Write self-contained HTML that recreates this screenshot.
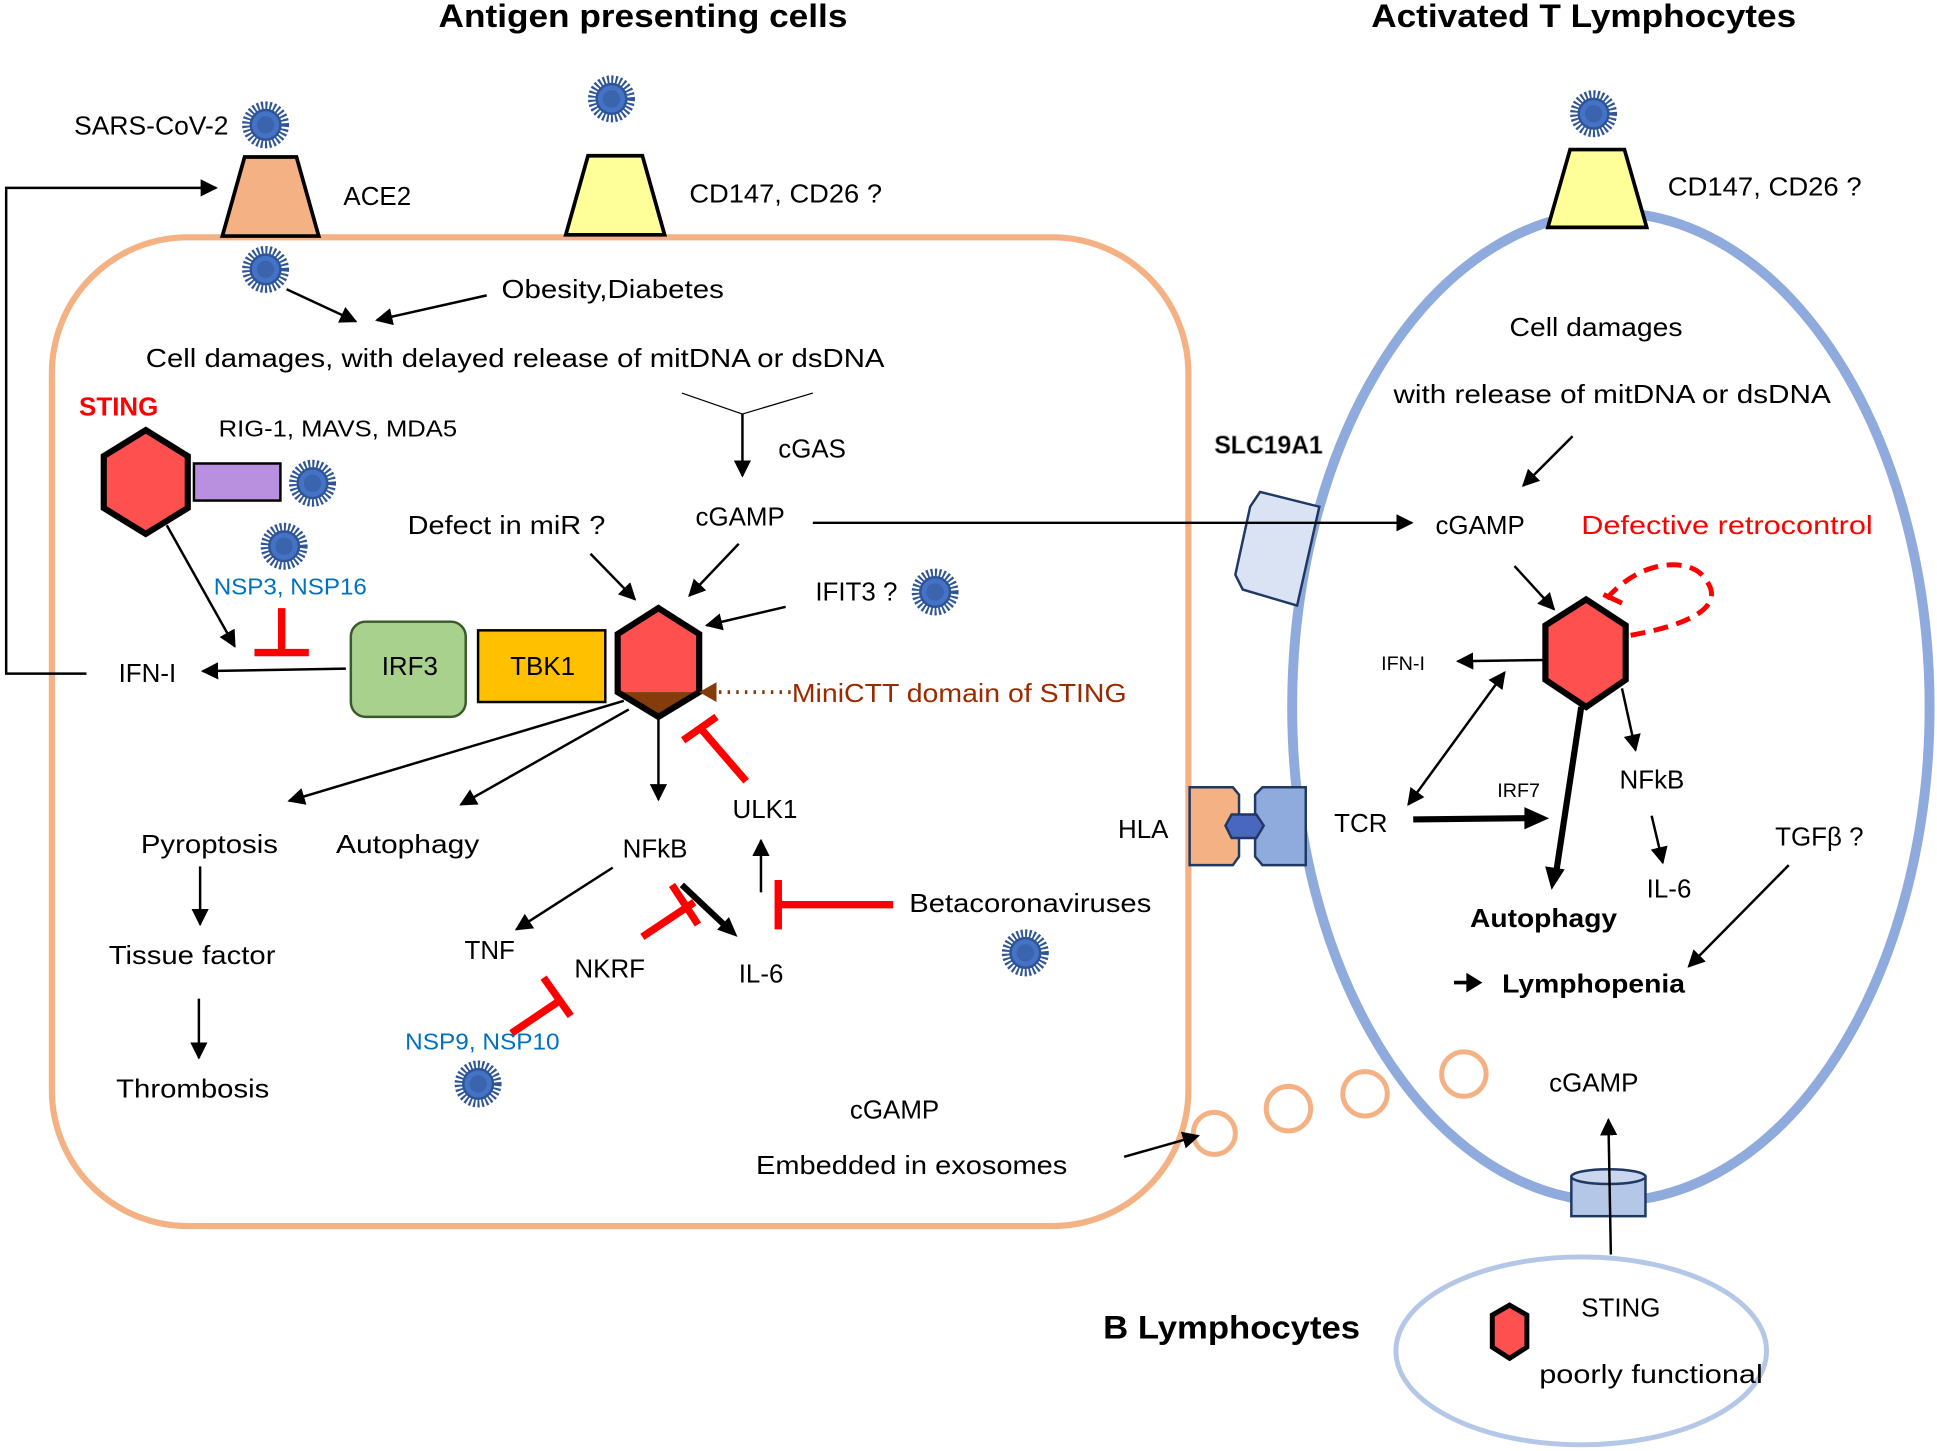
<!DOCTYPE html>
<html><head><meta charset="utf-8"><style>html,body{margin:0;padding:0;background:#fff}svg{display:block}text{font-family:"Liberation Sans",sans-serif}</style></head>
<body>
<svg width="1937" height="1451" viewBox="0 0 1568 1174" preserveAspectRatio="none" xmlns="http://www.w3.org/2000/svg">
<defs>
<marker id="am" viewBox="0 0 10 10" refX="9" refY="5" markerWidth="14" markerHeight="14" orient="auto-start-reverse" markerUnits="userSpaceOnUse"><path d="M0,0L10,5L0,10z" fill="#000"/></marker>
<g id="v"><circle r="15" fill="none" stroke="#2f5597" stroke-width="8" stroke-dasharray="1.6 1.6"/><circle r="12" fill="#4472c4" stroke="#2f5597" stroke-width="2"/><circle r="7" fill="#2f5597" opacity="0.5"/></g>
</defs>
<g font-size="21" fill="#000">
<text x="355" y="22" font-weight="bold" font-size="26" textLength="331" lengthAdjust="spacingAndGlyphs">Antigen presenting cells</text>
<text x="1110" y="22" font-weight="bold" font-size="26" textLength="344" lengthAdjust="spacingAndGlyphs">Activated T Lymphocytes</text>
</g>
<rect x="42" y="192" width="920" height="800" rx="110" fill="#fff" stroke="#f4b183" stroke-width="5"/>
<ellipse cx="1304" cy="572" rx="258" ry="400" fill="none" stroke="#8faadc" stroke-width="8"/>
<ellipse cx="1280" cy="1093" rx="150" ry="76" fill="#fff" stroke="#b4c7e7" stroke-width="4"/>
<polygon points="180,191 258,191 240,127 198,127" fill="#f4b183" stroke="#000" stroke-width="3"/>
<polygon points="458,190 538,190 520,126 476,126" fill="#ffff99" stroke="#000" stroke-width="3"/>
<polygon points="1253,184 1333,184 1315,121 1271,121" fill="#ffff99" stroke="#000" stroke-width="3"/>
<use href="#v" x="215" y="101"/><use href="#v" x="495" y="80"/><use href="#v" x="1290" y="92"/>
<use href="#v" x="215" y="218"/><use href="#v" x="253" y="391"/><use href="#v" x="230" y="442"/>
<use href="#v" x="757" y="479"/><use href="#v" x="830" y="771"/><use href="#v" x="387" y="877"/>
<polygon points="1012,410 1020,398 1068,410 1050,490 1006,477 1000,465" fill="#dae3f3" stroke="#1f3864" stroke-width="2"/>
<polygon points="963,637 998,637 1003,643 1003,693 998,700 963,700" fill="#f4b183" stroke="#1f3864" stroke-width="2"/>
<polygon points="1022,637 1057,637 1057,700 1022,700 1016,693 1016,643" fill="#8faadc" stroke="#1f3864" stroke-width="2"/>
<polygon points="997,659 1017,659 1023,668 1017,678 997,678 992,668" fill="#4a67c0" stroke="#1f3864" stroke-width="2"/>
<rect x="1272" y="952" width="60" height="32" fill="#b4c7e7" stroke="#1f3864" stroke-width="2"/>
<ellipse cx="1302" cy="952" rx="30" ry="6" fill="#c9d6ee" stroke="#1f3864" stroke-width="2"/>
<g fill="none" stroke="#f4b183" stroke-width="4"><circle cx="983" cy="917" r="17"/><circle cx="1043" cy="897" r="18"/><circle cx="1105" cy="885" r="18"/><circle cx="1185" cy="869" r="18"/></g>
<polygon points="118,348 152,369 152,411 118,432 84,411 84,369" fill="#ff5050" stroke="#000" stroke-width="5"/>
<rect x="157" y="375" width="70" height="30" fill="#b98fe0" stroke="#000" stroke-width="2"/>
<polygon points="533,492 566,513 566,560 533,580 500,560 500,513" fill="#ff5050"/>
<polygon points="500,560 566,560 533,580" fill="#843c0c"/>
<polygon points="533,492 566,513 566,560 533,580 500,560 500,513" fill="none" stroke="#000" stroke-width="5"/>
<polygon points="1284,485 1316,506 1316,550 1284,572 1251,550 1251,506" fill="#ff5050" stroke="#000" stroke-width="5"/>
<polygon points="1222,1056 1236,1064 1236,1090 1222,1099 1208,1090 1208,1064" fill="#ff5050" stroke="#000" stroke-width="4"/>
<rect x="284" y="503" width="93" height="77" rx="12" fill="#a9d18e" stroke="#3a5a2a" stroke-width="2"/>
<rect x="387" y="510" width="103" height="58" fill="#ffc000" stroke="#000" stroke-width="2"/>
<g stroke="#000" stroke-width="2" fill="none" marker-end="url(#am)">
<polyline points="70,545 5,545 5,152 175,152"/>
<line x1="232" y1="234" x2="288" y2="260"/>
<line x1="394" y1="239" x2="305" y2="259"/>
<line x1="601" y1="335" x2="601" y2="385"/>
<line x1="478" y1="448" x2="514" y2="485"/>
<line x1="598" y1="440" x2="558" y2="482"/>
<line x1="636" y1="491" x2="572" y2="506"/>
<line x1="280" y1="541" x2="164" y2="543"/>
<line x1="135" y1="425" x2="190" y2="523"/>
<line x1="505" y1="567" x2="234" y2="648"/>
<line x1="509" y1="574" x2="373" y2="651"/>
<line x1="533" y1="580" x2="533" y2="647"/>
<line x1="496" y1="702" x2="418" y2="752"/>
<line x1="616" y1="722" x2="616" y2="680"/>
<line x1="162" y1="701" x2="162" y2="748"/>
<line x1="161" y1="808" x2="161" y2="856"/>
<line x1="658" y1="423" x2="1143" y2="423"/>
<line x1="1273" y1="353" x2="1233" y2="393"/>
<line x1="1226" y1="458" x2="1258" y2="493"/>
<line x1="1251" y1="534" x2="1180" y2="535"/>
<line x1="1313" y1="557" x2="1324" y2="607"/>
<line x1="1337" y1="660" x2="1346" y2="698"/>
<line x1="1448" y1="700" x2="1367" y2="782"/>
<line x1="910" y1="936" x2="970" y2="919"/>
<line x1="1304" y1="1015" x2="1302" y2="906"/>
<line x1="1140" y1="651" x2="1218" y2="544" marker-start="url(#am)"/>
</g>
<line x1="552" y1="318" x2="601" y2="335" stroke="#000" stroke-width="1"/>
<line x1="658" y1="318" x2="601" y2="335" stroke="#000" stroke-width="1"/>
<g stroke="#000" stroke-width="5">
<line x1="1144" y1="663" x2="1236" y2="662"/>
<line x1="1280" y1="572" x2="1260" y2="704"/>
<line x1="552" y1="716" x2="586" y2="748"/>
<line x1="1177" y1="795" x2="1190" y2="795" stroke-width="3"/>
</g>
<g fill="#000">
<polygon points="1254,662 1234,653 1234,671"/>
<polygon points="1256,720 1266.6,703.4 1250.8,701"/>
<polygon points="597,758 580.5,752.2 590.1,742"/>
<polygon points="1200,795 1187,787 1187,803"/>
</g>
<line x1="640" y1="560" x2="570" y2="560" stroke="#843c0c" stroke-width="3" stroke-dasharray="2 5"/>
<polygon points="566,560 580,552 580,568" fill="#843c0c"/>
<g stroke="#ff0000" stroke-width="6" fill="none">
<line x1="228" y1="492" x2="228" y2="528"/><line x1="206" y1="528" x2="250" y2="528"/>
<line x1="604" y1="632" x2="566" y2="588"/><line x1="553" y1="599" x2="580" y2="580"/>
<line x1="520" y1="758" x2="562" y2="730"/><line x1="544" y1="716" x2="565" y2="748"/>
<line x1="414" y1="836" x2="454" y2="809"/><line x1="440" y1="791" x2="462" y2="822"/>
<line x1="723" y1="732" x2="630" y2="732"/><line x1="630" y1="712" x2="630" y2="752"/>
<line x1="1298" y1="481" x2="1313" y2="488" stroke-width="4"/>
<path d="M1320,514 C1370,505 1398,490 1380,468 C1370,452 1330,450 1300,485" stroke-width="4" stroke-dasharray="12 7"/>
</g>
<g font-size="21" fill="#000">
<text x="60" y="109" textLength="125" lengthAdjust="spacingAndGlyphs">SARS-CoV-2</text>
<text x="278" y="166">ACE2</text>
<text x="558" y="164" textLength="156" lengthAdjust="spacingAndGlyphs">CD147, CD26 ?</text>
<text x="1350" y="158" textLength="157" lengthAdjust="spacingAndGlyphs">CD147, CD26 ?</text>
<text x="406" y="241" textLength="180" lengthAdjust="spacingAndGlyphs">Obesity,Diabetes</text>
<text x="118" y="297" textLength="598" lengthAdjust="spacingAndGlyphs">Cell damages, with delayed release of mitDNA or dsDNA</text>
<text x="64" y="336" fill="#ff0000" font-weight="bold">STING</text>
<text x="177" y="353" font-size="19" textLength="193" lengthAdjust="spacingAndGlyphs">RIG-1, MAVS, MDA5</text>
<text x="630" y="370">cGAS</text>
<text x="330" y="432" textLength="160" lengthAdjust="spacingAndGlyphs">Defect in miR ?</text>
<text x="563" y="425">cGAMP</text>
<text x="173" y="481" font-size="19" fill="#0070c0" textLength="124" lengthAdjust="spacingAndGlyphs">NSP3, NSP16</text>
<text x="660" y="486">IFIT3 ?</text>
<text x="96" y="552">IFN-I</text>
<text x="309" y="546">IRF3</text>
<text x="413" y="546">TBK1</text>
<text x="641" y="568" fill="#9c2a00" textLength="271" lengthAdjust="spacingAndGlyphs">MiniCTT domain of STING</text>
<text x="593" y="662">ULK1</text>
<text x="114" y="690" textLength="111" lengthAdjust="spacingAndGlyphs">Pyroptosis</text>
<text x="272" y="690" textLength="116" lengthAdjust="spacingAndGlyphs">Autophagy</text>
<text x="504" y="694">NFkB</text>
<text x="736" y="738" textLength="196" lengthAdjust="spacingAndGlyphs">Betacoronaviruses</text>
<text x="88" y="780" textLength="135" lengthAdjust="spacingAndGlyphs">Tissue factor</text>
<text x="376" y="776">TNF</text>
<text x="465" y="791">NKRF</text>
<text x="598" y="795">IL-6</text>
<text x="328" y="849" font-size="19" fill="#0070c0" textLength="125" lengthAdjust="spacingAndGlyphs">NSP9, NSP10</text>
<text x="94" y="888" textLength="124" lengthAdjust="spacingAndGlyphs">Thrombosis</text>
<text x="688" y="905">cGAMP</text>
<text x="612" y="950" textLength="252" lengthAdjust="spacingAndGlyphs">Embedded in exosomes</text>
<text x="983" y="367" font-weight="bold" font-size="20" stroke="#999" stroke-width="0.6">SLC19A1</text>
<text x="905" y="678">HLA</text>
<text x="1222" y="272" textLength="140" lengthAdjust="spacingAndGlyphs">Cell damages</text>
<text x="1128" y="326" textLength="354" lengthAdjust="spacingAndGlyphs">with release of mitDNA or dsDNA</text>
<text x="1162" y="432">cGAMP</text>
<text x="1280" y="432" fill="#ff0000" textLength="236" lengthAdjust="spacingAndGlyphs">Defective retrocontrol</text>
<text x="1118" y="542" font-size="16">IFN-I</text>
<text x="1212" y="645" font-size="16">IRF7</text>
<text x="1311" y="638">NFkB</text>
<text x="1080" y="673">TCR</text>
<text x="1437" y="684">TGFβ ?</text>
<text x="1333" y="726">IL-6</text>
<text x="1190" y="750" font-weight="bold" textLength="119" lengthAdjust="spacingAndGlyphs">Autophagy</text>
<text x="1216" y="803" font-weight="bold" textLength="148" lengthAdjust="spacingAndGlyphs">Lymphopenia</text>
<text x="1254" y="883">cGAMP</text>
<text x="893" y="1083" font-weight="bold" font-size="26" textLength="208" lengthAdjust="spacingAndGlyphs">B Lymphocytes</text>
<text x="1280" y="1065">STING</text>
<text x="1246" y="1119" textLength="181" lengthAdjust="spacingAndGlyphs">poorly functional</text>
</g>
</svg>
</body></html>
